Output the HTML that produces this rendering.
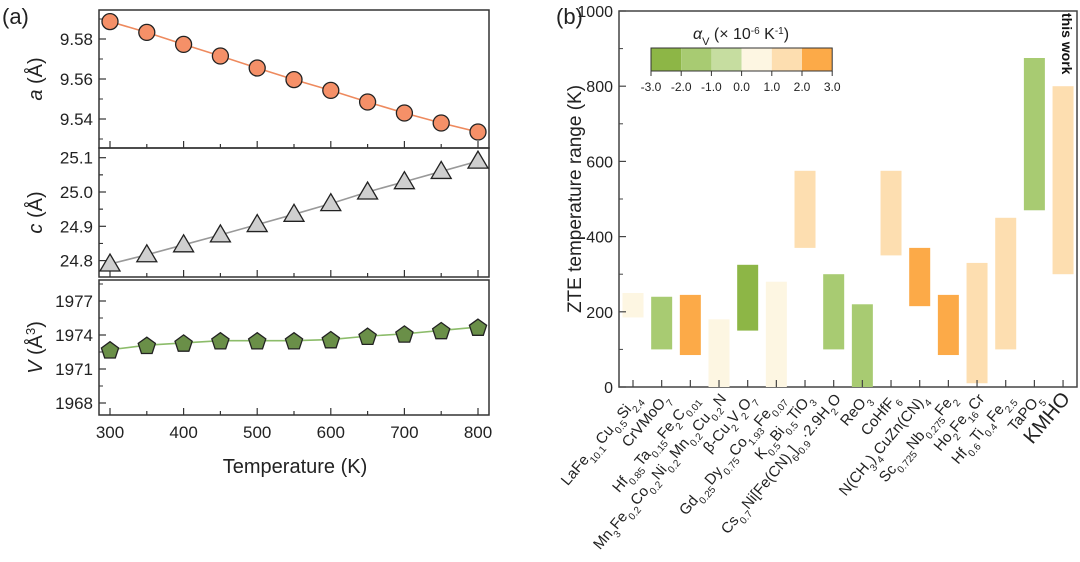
<!DOCTYPE html>
<html><head><meta charset="utf-8"><style>
body{margin:0;background:#fff;}
svg{display:block;font-family:"Liberation Sans",sans-serif;}
</style></head><body>
<svg id="chart" width="1080" height="562" viewBox="0 0 1080 562">
<text x="2" y="24" font-size="22" fill="#222">(a)</text>
<text x="556" y="24" font-size="22" fill="#222">(b)</text>
<g id="left"></g>
<g id="right"></g>
</svg>
<script>
const temps=[300,350,400,450,500,550,600,650,700,750,800];
const aVals=[9.5887,9.5833,9.5773,9.5715,9.5655,9.5597,9.5543,9.5485,9.5430,9.5380,9.5335];
const cVals=[24.790,24.817,24.846,24.875,24.905,24.935,24.966,25.000,25.030,25.060,25.090];
const vVals=[1972.7,1973.1,1973.3,1973.5,1973.5,1973.5,1973.6,1973.9,1974.1,1974.4,1974.7];
const xTicks=[300,400,500,600,700,800];
const aTicks=[9.54,9.56,9.58];
const cTicks=[24.8,24.9,25.0,25.1];
const vTicks=[1968,1971,1974,1977];

const S="<tspan baseline-shift='sub' font-size='10'>";
const E="</tspan>";
const materials=["LaFe"+S+"10.1"+E+"Cu"+S+"0.5"+E+"Si"+S+"2.4"+E,
"CrVMoO"+S+"7"+E,
"Hf"+S+"0.85"+E+"Ta"+S+"0.15"+E+"Fe"+S+"2"+E+"C"+S+"0.01"+E,
"Mn"+S+"3"+E+"Fe"+S+"0.2"+E+"Co"+S+"0.2"+E+"Ni"+S+"0.2"+E+"Mn"+S+"0.2"+E+"Cu"+S+"0.2"+E+"N",
"β-Cu"+S+"2"+E+"V"+S+"2"+E+"O"+S+"7"+E,
"Gd"+S+"0.25"+E+"Dy"+S+"0.75"+E+"Co"+S+"1.93"+E+"Fe"+S+"0.07"+E,
"K"+S+"0.5"+E+"Bi"+S+"0.5"+E+"TiO"+S+"3"+E,
"Cs"+S+"0.7"+E+"Ni[Fe(CN)"+S+"6"+E+"]"+S+"0.9"+E+"·2.9H"+S+"2"+E+"O",
"ReO"+S+"3"+E,
"CoHfF"+S+"6"+E,
"N(CH"+S+"3"+E+")"+S+"4"+E+"CuZn(CN)"+S+"4"+E,
"Sc"+S+"0.725"+E+"Nb"+S+"0.275"+E+"Fe"+S+"2"+E,
"Ho"+S+"2"+E+"Fe"+S+"16"+E+"Cr",
"Hf"+S+"0.6"+E+"Ti"+S+"0.4"+E+"Fe"+S+"2.5"+E,
"TaPO"+S+"5"+E,
"KMHO"];
const rangeLow=[185,100,85,0,150,0,370,100,0,350,215,85,10,100,470,300];
const rangeHigh=[250,240,245,180,325,280,575,300,220,575,370,245,330,450,875,800];
const alphaClass=[3,1,5,3,0,3,4,1,1,4,5,5,4,4,1,4];
const classColors=["#8db646","#a8cb72","#c6dda0","#fdf6e2","#fddeb0","#fcaa48"];
const legendTicks=["-3.0","-2.0","-1.0","0.0","1.0","2.0","3.0"];
const yTicksR=[0,200,400,600,800,1000];

const NS="http://www.w3.org/2000/svg";
function mk(parent,tag,attrs){const e=document.createElementNS(NS,tag);for(const k in attrs)e.setAttribute(k,attrs[k]);parent.appendChild(e);return e;}

// ---------- left panels ----------
const L=document.getElementById('left');
const xL=99,xR=489;
const sx=t=>110+(t-300)*(478-110)/500;
const panels=[
 {top:10,bot:148,vals:aVals,ticks:aTicks,y:v=>39+(9.58-v)*2000,fmt:v=>v.toFixed(2),name:'a',color:'#f59068',line:'#ee8a5e',shape:'circle',minor:0.01},
 {top:148,bot:277,vals:cVals,ticks:cTicks,y:v=>192+(25.0-v)*343,fmt:v=>v.toFixed(1),name:'c',color:'#cfcfcf',line:'#999',shape:'tri',minor:0.05},
 {top:280,bot:415,vals:vVals,ticks:vTicks,y:v=>335+(1974-v)*34/3,fmt:v=>String(v),name:'v',color:'#6a8f48',line:'#8cbc6a',shape:'pent',minor:1.5}
];
panels.forEach((p,pi)=>{
  const g=mk(L,'g',{});
  
  
  const fr=mk(g,'rect',{x:xL,y:p.top,width:xR-xL,height:p.bot-p.top,fill:'none',stroke:'#333','stroke-width':1.5});
  
  
  p.ticks.forEach(t=>{
    const y=p.y(t);
    mk(g,'line',{x1:xL,x2:xL+7,y1:y,y2:y,stroke:'#333','stroke-width':1.2});
    const tx=mk(g,'text',{x:xL-6,y:y+6,'font-size':17,'text-anchor':'end',fill:'#222'});
    tx.textContent=p.fmt(t);
    
    
    const ym=p.y(t+p.minor);
    if(ym>p.top+2&&ym<p.bot-2) mk(g,'line',{x1:xL,x2:xL+4,y1:ym,y2:ym,stroke:'#333','stroke-width':1});
    const ym2=p.y(t-p.minor);
    if(ym2>p.top+2&&ym2<p.bot-2) mk(g,'line',{x1:xL,x2:xL+4,y1:ym2,y2:ym2,stroke:'#333','stroke-width':1});
  });
  temps.forEach((t,i)=>{
    const big=t%100===0;
    mk(g,'line',{x1:sx(t),x2:sx(t),y1:p.bot,y2:p.bot-(big?7:4),stroke:'#333','stroke-width':1.2});
  });
  let d='';
  p.vals.forEach((v,i)=>{d+=(i?'L':'M')+sx(temps[i])+','+p.y(v);});
  const ln=mk(g,'path',{d:d,fill:'none',stroke:p.line,'stroke-width':1.6});
  
  
  p.vals.forEach((v,i)=>{
    const cx=sx(temps[i]),cy=p.y(v);let m;
    if(p.shape==='circle') m=mk(g,'circle',{cx:cx,cy:cy,r:8,fill:p.color,stroke:'#222','stroke-width':1.3});
    else if(p.shape==='tri') m=mk(g,'polygon',{points:`${cx},${cy-10} ${cx-10},${cy+7} ${cx+10},${cy+7}`,fill:p.color,stroke:'#222','stroke-width':1.3});
    else {let pts=[];for(let k=0;k<5;k++){const a=-Math.PI/2+k*2*Math.PI/5;pts.push((cx+9*Math.cos(a)).toFixed(1)+','+(cy+1+9*Math.sin(a)).toFixed(1));}
      m=mk(g,'polygon',{points:pts.join(' '),fill:p.color,stroke:'#222','stroke-width':1.3});}
    
    
  });
  const cy=(p.top+p.bot)/2;
  const tt=mk(g,'text',{x:0,y:0,'font-size':20,'text-anchor':'middle',fill:'#222',transform:`translate(42,${cy}) rotate(-90)`});
  if(p.name==='v'){tt.innerHTML="<tspan font-style='italic'>V</tspan> (Å<tspan baseline-shift='super' font-size='13'>3</tspan>)";}
  else tt.innerHTML="<tspan font-style='italic'>"+p.name+"</tspan> (Å)";
  
  
});
xTicks.forEach(t=>{
  const tx=mk(L,'text',{x:sx(t),y:438,'font-size':17,'text-anchor':'middle',fill:'#222'});
  tx.textContent=t;
  
  
});
const xt=mk(L,'text',{x:295,y:473,'font-size':20,'text-anchor':'middle',fill:'#222'});
xt.textContent='Temperature (K)';



// ---------- right chart ----------
const R=document.getElementById('right');
const rL=619,rR=1077,rT=11,rB=387;
const sy=v=>rB-v*(rB-rT)/1000;
const sxr=i=>633+i*28.67;
const fr=mk(R,'rect',{x:rL,y:rT,width:rR-rL,height:rB-rT,fill:'none',stroke:'#444','stroke-width':1.5});


materials.forEach((m,i)=>{
  const b=mk(R,'rect',{x:sxr(i)-10.5,y:sy(rangeHigh[i]),width:21,height:sy(rangeLow[i])-sy(rangeHigh[i]),fill:classColors[alphaClass[i]]});
  
  
});
yTicksR.forEach(t=>{
  const y=sy(t);
  mk(R,'line',{x1:rL,x2:rL+7,y1:y,y2:y,stroke:'#444','stroke-width':1.2});
  if(t<1000){mk(R,'line',{x1:rL,x2:rL+4,y1:sy(t+100),y2:sy(t+100),stroke:'#444','stroke-width':1});}
  const tx=mk(R,'text',{x:rL-6,y:y+6,'font-size':16,'text-anchor':'end',fill:'#222'});
  tx.textContent=t;
  
  
});
const yt=mk(R,'text',{x:0,y:0,'font-size':19,'text-anchor':'middle',fill:'#222',transform:`translate(581,${(rT+rB)/2}) rotate(-90)`});
yt.textContent='ZTE temperature range (K)';


materials.forEach((m,i)=>{
  const x=sxr(i);
  mk(R,'line',{x1:x,x2:x,y1:rB,y2:rB-7,stroke:'#444','stroke-width':1.2});
  const last=i===materials.length-1;
  const tx=mk(R,'text',{x:0,y:0,'font-size':last?20:15,'text-anchor':'end',fill:'#222',transform:`translate(${x+8},${rB+12}) rotate(-50)`});
  tx.innerHTML=m;
  
  
});
const tw=mk(R,'text',{x:0,y:0,'font-size':14,'font-weight':'bold','text-anchor':'start',fill:'#111',transform:`translate(1062,13) rotate(90)`});
tw.textContent='this work';


const lg=mk(R,'g',{});


const lx0=651,lw=30.2;
classColors.forEach((c,i)=>{
  const r=mk(lg,'rect',{x:lx0+i*lw,y:48,width:lw,height:23,fill:c});
  
  
});
mk(lg,'rect',{x:lx0,y:48,width:lw*6,height:23,fill:'none',stroke:'#333','stroke-width':1});
legendTicks.forEach((t,i)=>{
  mk(lg,'line',{x1:lx0+i*lw,x2:lx0+i*lw,y1:71,y2:76,stroke:'#333'});
  const tx=mk(lg,'text',{x:lx0+i*lw,y:91,'font-size':12,'text-anchor':'middle',fill:'#222'});
  tx.textContent=t;
  
  
});
const lt=mk(lg,'text',{x:741,y:39,'font-size':16,'text-anchor':'middle',fill:'#222'});
lt.innerHTML="<tspan font-style='italic'>α</tspan><tspan baseline-shift='sub' font-size='11'>V</tspan> (× 10<tspan baseline-shift='super' font-size='10'>-6</tspan> K<tspan baseline-shift='super' font-size='10'>-1</tspan>)";


</script>
</body></html>
